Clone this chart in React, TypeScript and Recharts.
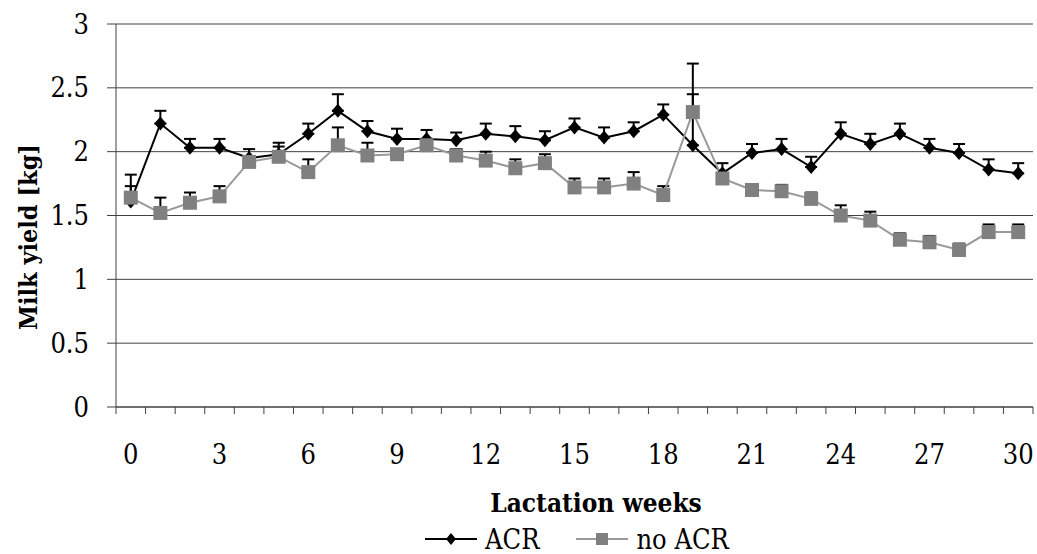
import * as React from 'react'
import { LineChart, Line, XAxis, YAxis, CartesianGrid, ErrorBar, Legend, Label } from 'recharts'

const weeks = [0, 1, 2, 3, 4, 5, 6, 7, 8, 9, 10, 11, 12, 13, 14, 15, 16, 17, 18, 19, 20, 21, 22, 23, 24, 25, 26, 27, 28, 29, 30]

const acr = [
	1.61, 2.22, 2.03, 2.03, 1.95, 1.98, 2.14, 2.32, 2.16, 2.1, 2.1, 2.09, 2.14, 2.12, 2.09, 2.19, 2.11, 2.16, 2.29, 2.05,
	1.83, 1.99, 2.02, 1.88, 2.14, 2.06, 2.14, 2.03, 1.99, 1.86, 1.83,
]
const acrErr = [
	0.21, 0.1, 0.07, 0.07, 0.07, 0.09, 0.08, 0.13, 0.08, 0.08, 0.07, 0.06, 0.08, 0.08, 0.07, 0.07, 0.08, 0.07, 0.08, 0.4,
	0.08, 0.07, 0.08, 0.08, 0.09, 0.08, 0.08, 0.07, 0.07, 0.08, 0.08,
]

const noAcr = [
	1.64, 1.52, 1.6, 1.65, 1.92, 1.96, 1.84, 2.05, 1.97, 1.98, 2.05, 1.97, 1.93, 1.87, 1.91, 1.72, 1.72, 1.75, 1.66, 2.31,
	1.79, 1.7, 1.69, 1.63, 1.5, 1.46, 1.31, 1.29, 1.23, 1.37, 1.37,
]
const noAcrErr = [
	0.09, 0.12, 0.08, 0.08, 0.03, 0.08, 0.1, 0.14, 0.1, 0.03, 0.05, 0.05, 0.07, 0.07, 0.07, 0.07, 0.07, 0.09, 0.07, 0.38,
	0.03, 0.04, 0.05, 0.05, 0.08, 0.07, 0.05, 0.05, 0.05, 0.06, 0.06,
]

const yTicks = [0, 0.5, 1, 1.5, 2, 2.5, 3]
const xLabelTicks = [0, 3, 6, 9, 12, 15, 18, 21, 24, 27, 30]
const xMarkTicks = [-0.5, ...weeks.map((w) => w + 0.5)]

const data = weeks.map((w, i) => ({
	week: w,
	acr: acr[i],
	acrErr: [0, acrErr[i]],
	noAcr: noAcr[i],
	noAcrErr: [0, noAcrErr[i]],
}))

// only DejaVu Serif renders as a serif face in the sandbox
const font = "'DejaVu Serif Condensed', 'DejaVu Serif'"
const axisColor = '#404040'

const Diamond = (props: any) => {
	const { cx, cy, key } = props
	if (cx == null || cy == null) return null
	return <path key={key} d={`M${cx},${cy - 7}L${cx + 6},${cy}L${cx},${cy + 7}L${cx - 6},${cy}Z`} fill="#000" />
}

const Square = (props: any) => {
	const { cx, cy, key } = props
	if (cx == null || cy == null) return null
	return <rect key={key} x={cx - 7} y={cy - 7} width={14} height={14} fill="#808080" />
}

const LegendContent = () => (
	<div
		style={{
			display: 'flex',
			alignItems: 'center',
			height: 30,
			paddingLeft: 425,
			fontFamily: font,
			fontSize: 27,
			color: '#000',
		}}
	>
		<svg width={52} height={16}>
			<line x1={0} y1={8} x2={52} y2={8} stroke="#000" strokeWidth={2} />
			<path d="M26,2L31,8L26,14L21,8Z" fill="#000" />
		</svg>
		<span style={{ marginLeft: 8, marginRight: 37 }}>ACR</span>
		<svg width={52} height={16}>
			<line x1={0} y1={8} x2={52} y2={8} stroke="#999" strokeWidth={2} />
			<rect x={20} y={2} width={12} height={12} fill="#808080" />
		</svg>
		<span style={{ marginLeft: 8 }}>no ACR</span>
	</div>
)

const App = () => {
	return (
		<div style={{ position: 'absolute', left: 0, top: 0 }}>
			<LineChart width={1037} height={554} data={data} margin={{ top: 24, right: 4, left: 0, bottom: 0 }}>
				<CartesianGrid vertical={false} stroke={axisColor} strokeWidth={1} xAxisId="axisB" />
				<XAxis
					xAxisId="axisA"
					dataKey="week"
					type="number"
					domain={[-0.5, 30.5]}
					ticks={xMarkTicks}
					tickFormatter={() => ''}
					tickSize={7}
					height={8}
					stroke={axisColor}
					interval={0}
				/>
				<XAxis
					xAxisId="axisB"
					dataKey="week"
					type="number"
					domain={[-0.5, 30.5]}
					ticks={xLabelTicks}
					interval={0}
					axisLine={false}
					tickLine={false}
					tickSize={0}
					tickMargin={30}
					height={109}
					tick={{ fontFamily: font, fontSize: 27, fill: '#000' }}
				>
					<Label
						content={() => (
							<text x={596} y={512} textAnchor="middle" fontFamily={font} fontSize={26} fontWeight="bold" fill="#000">
								Lactation weeks
							</text>
						)}
					/>
				</XAxis>
				<YAxis
					domain={[0, 3]}
					ticks={yTicks}
					width={116}
					tickSize={9}
					tickMargin={18}
					stroke={axisColor}
					tick={{ fontFamily: font, fontSize: 27, fill: '#000' }}
				>
					<Label
						content={() => (
							<text
								x={28}
								y={237}
								transform="rotate(-90, 28, 237)"
								textAnchor="middle"
								dominantBaseline="central"
								fontFamily={font}
								fontSize={25}
								fontWeight="bold"
								fill="#000"
							>
								Milk yield [kg]
							</text>
						)}
					/>
				</YAxis>
				<Legend verticalAlign="bottom" content={LegendContent} wrapperStyle={{ height: 30 }} />
				<Line
					xAxisId="axisB"
					dataKey="acr"
					name="ACR"
					stroke="#000"
					strokeWidth={2}
					dot={Diamond}
					activeDot={false}
					isAnimationActive={false}
				>
					<ErrorBar dataKey="acrErr" direction="y" width={6} stroke="#000" strokeWidth={2} />
				</Line>
				<Line
					xAxisId="axisA"
					dataKey="noAcr"
					name="no ACR"
					stroke="#999"
					strokeWidth={2}
					dot={Square}
					activeDot={false}
					isAnimationActive={false}
				>
					<ErrorBar dataKey="noAcrErr" direction="y" width={6} stroke="#000" strokeWidth={2} />
				</Line>
			</LineChart>
		</div>
	)
}

export default App
